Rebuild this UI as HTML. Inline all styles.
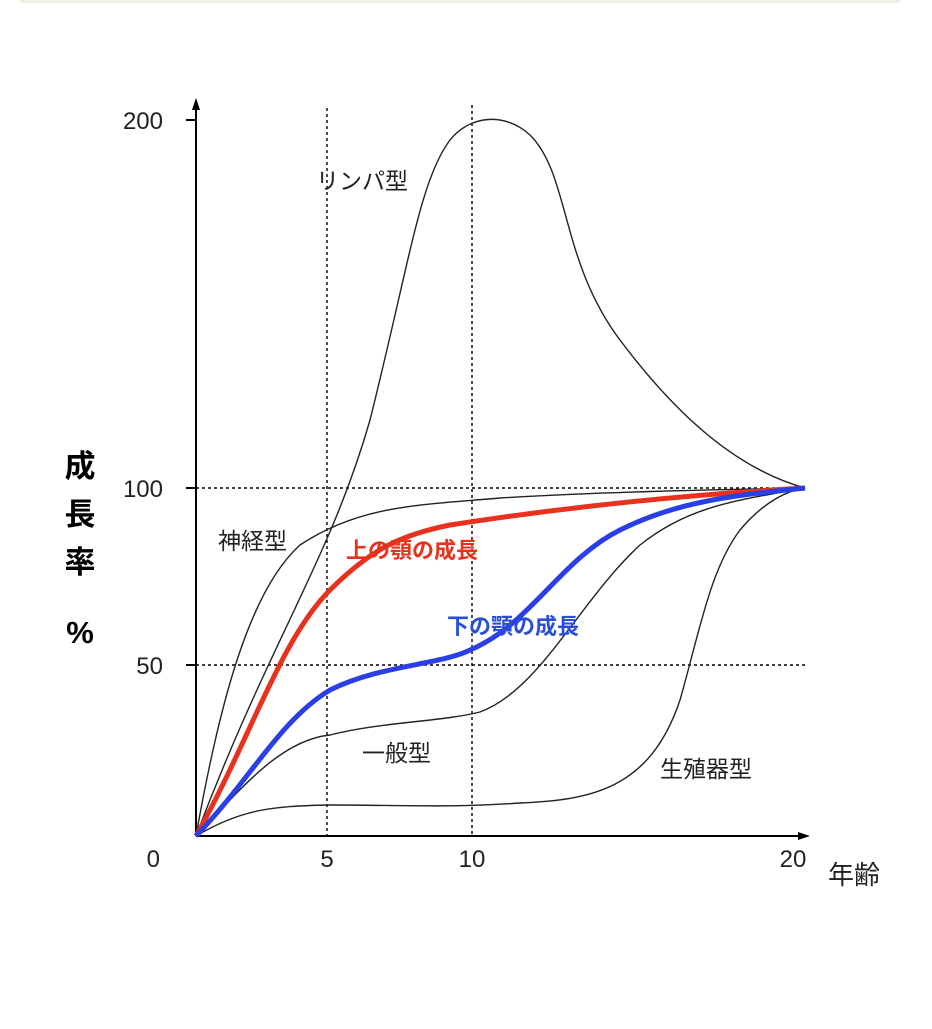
<!DOCTYPE html>
<html><head><meta charset="utf-8"><style>
body{margin:0;background:#fff}
svg text{font-family:"Liberation Sans","Noto Sans CJK JP",sans-serif}
</style></head><body>
<svg width="932" height="1024" viewBox="0 0 932 1024" xmlns="http://www.w3.org/2000/svg">
<rect x="20" y="0" width="880" height="3" fill="#f1efe4"/>
<g stroke="#000" stroke-width="1.4" stroke-dasharray="3,3" fill="none">
<line x1="327" y1="108" x2="327" y2="836"/>
<line x1="472" y1="105" x2="472" y2="836"/>
<line x1="196" y1="488" x2="808" y2="488"/>
<line x1="196" y1="665" x2="808" y2="665"/>
</g>
<g stroke="#000" stroke-width="2" fill="none">
<line x1="196" y1="836" x2="196" y2="106"/>
<line x1="196" y1="836" x2="802" y2="836"/>
<line x1="186" y1="120" x2="196" y2="120"/>
<line x1="186" y1="488" x2="196" y2="488"/>
<line x1="186" y1="665" x2="196" y2="665"/>
</g>
<polygon points="196,98 192,110 200,110" fill="#000"/>
<polygon points="810,836 798,832 798,840" fill="#000"/>
<g fill="none" stroke="#222" stroke-width="1.4">
<path d="M196,836 C270,640 330,560 370,420 C410,260 420,180 450,140 C470,115 505,112 530,135 C570,175 560,260 620,340 C680,420 740,470 805,488"/>
<path d="M196,836 C220,700 250,590 300,545 C360,505 420,505 500,498 C600,492 700,490 805,488"/>
<path d="M196,836 C240,790 280,740 330,735 C380,722 440,722 480,712 C540,690 580,600 640,545 C690,505 740,500 805,488"/>
<path d="M196,836 C240,810 270,806 330,805 C400,805 450,808 520,803 C590,800 650,790 680,700 C700,630 710,570 740,530 C765,500 790,490 805,488"/>
</g>
<path d="M196,836 C250,740 280,640 330,590 C370,550 400,535 450,525 C560,508 680,495 805,488" fill="none" stroke="#e8321e" stroke-width="5"/>
<path d="M196,836 C250,780 280,720 330,690 C380,665 440,665 470,650 C530,625 560,560 620,530 C680,500 740,495 805,488" fill="none" stroke="#2a3fe6" stroke-width="5"/>
<g font-size="24" fill="#222">
<text x="163" y="129" text-anchor="end">200</text>
<text x="163" y="497" text-anchor="end">100</text>
<text x="163" y="674" text-anchor="end">50</text>
<text x="160" y="867" text-anchor="end">0</text>
<text x="327" y="867" text-anchor="middle">5</text>
<text x="472" y="867" text-anchor="middle">10</text>
<text x="793" y="867" text-anchor="middle">20</text>
<text x="828" y="884" font-size="26">年齢</text>
<text x="316" y="189" font-size="23">リンパ型</text>
<text x="218" y="549" font-size="23">神経型</text>
<text x="362" y="761" font-size="23">一般型</text>
<text x="660" y="777" font-size="23">生殖器型</text>
</g>
<text x="346" y="558" font-size="22" font-weight="bold" fill="#e8321e">上の顎の成長</text>
<text x="447" y="634" font-size="22" font-weight="bold" fill="#2a4fd6">下の顎の成長</text>
<g font-size="31" font-weight="bold" fill="#000" text-anchor="middle">
<text x="80" y="477">成</text>
<text x="80" y="525">長</text>
<text x="80" y="573">率</text>
<text x="80" y="643">%</text>
</g>
</svg>
</body></html>
